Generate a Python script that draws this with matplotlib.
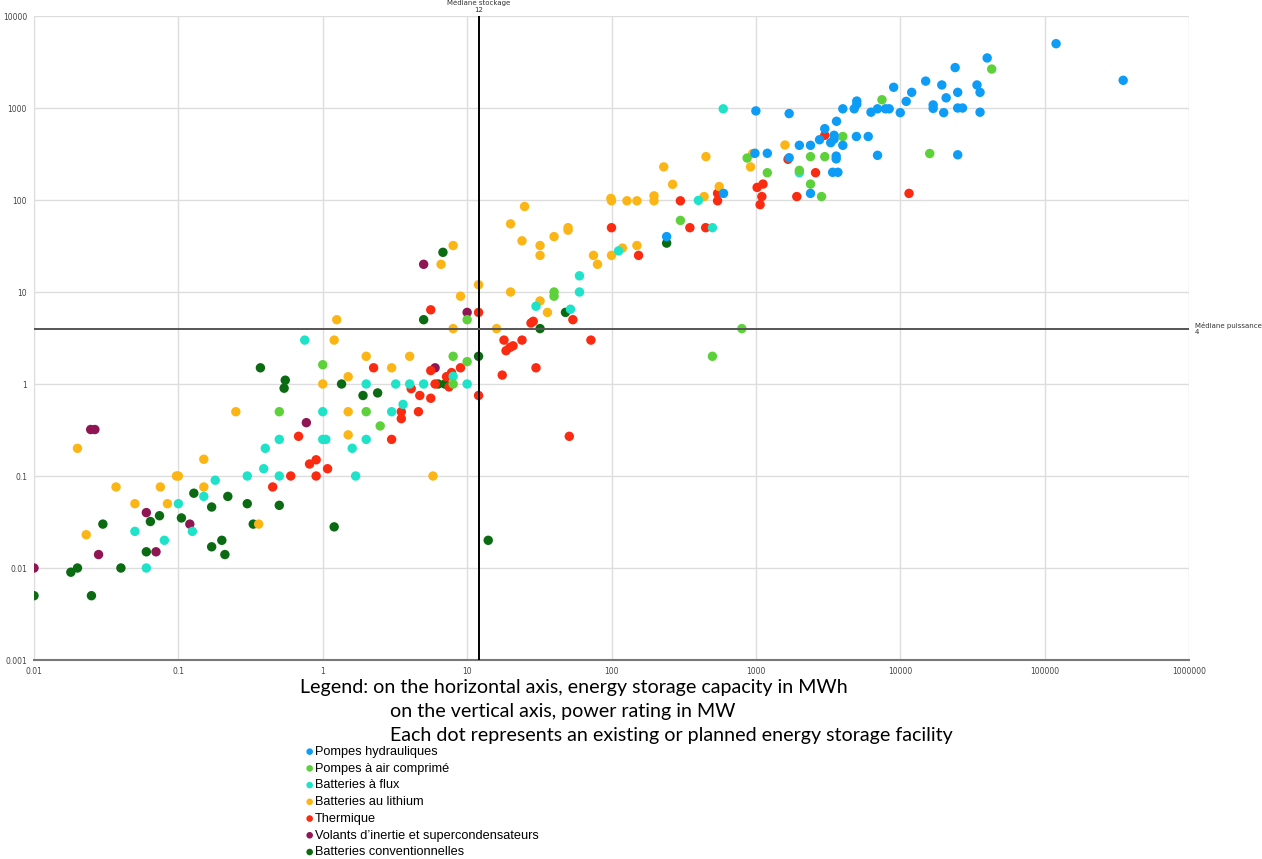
import numpy as np
import matplotlib.pyplot as plt
from matplotlib.transforms import blended_transform_factory

# storage capacity (MWh) and power rating (MW) per technology
hydro_mwh = [120000, 350000, 40000, 24000, 19400, 34000, 25000, 35700, 20800, 16900,
             16900, 20000, 25000, 27000, 35700, 25000, 15000, 9000, 12000, 11000,
             5000, 5000, 4800, 4000, 6270, 6960, 7900, 8380, 10000, 1000,
             1700, 3620, 3000, 3480, 3480, 3300, 2760, 4000, 4970, 6000,
             6960, 2000, 2390, 3600, 3600, 3400, 3700, 1700, 985, 1200,
             597, 2390, 241]
hydro_mw = [5000, 2000, 3500, 2750, 1780, 1780, 1480, 1480, 1290, 1080,
            990, 890, 1000, 1000, 900, 310, 1960, 1680, 1480, 1180,
            1190, 1100, 980, 980, 900, 980, 980, 980, 890, 930,
            870, 717, 596, 505, 460, 420, 452, 393, 490, 490,
            306, 393, 393, 300, 280, 200, 200, 288, 322, 322,
            118, 118, 40]

air_mwh = [43000, 16000, 7470, 4000, 2390, 3000, 870, 1200, 2000, 2390,
           2850, 300, 800, 500, 40, 40, 10, 8, 10, 8,
           1.0, 2.0, 2.5, 0.5]
air_mw = [2650, 320, 1230, 490, 296, 296, 286, 198, 210, 149,
          109, 60, 4, 2, 10, 9, 5, 2, 1.75, 1.0,
          1.62, 0.5, 0.35, 0.5]

flux_mwh = [594, 2000, 400, 500, 112, 60, 60, 52, 30, 8,
            5, 10, 4, 3.2, 2.0, 3.6, 3.0, 1.0, 0.75, 0.5,
            1.0, 1.05, 2.0, 1.6, 0.5, 1.69, 0.4, 0.39, 0.3, 0.18,
            0.15, 0.1, 0.05, 0.125, 0.08, 0.06]
flux_mw = [980, 198, 99, 50, 28, 15, 10, 6.5, 7, 1.21,
           1, 1, 1, 1, 1, 0.6, 0.5, 0.5, 3.0, 0.25,
           0.25, 0.25, 0.25, 0.2, 0.1, 0.1, 0.2, 0.12, 0.1, 0.09,
           0.06, 0.05, 0.025, 0.025, 0.02, 0.01]

lith_mwh = [1590, 950, 918, 451, 230, 265, 197, 197, 557, 438,
            99, 100, 128, 150, 119, 150, 100, 75, 80, 25,
            20, 24, 50, 50, 40, 32, 32, 8, 6.6, 12,
            9, 20, 32, 36, 8, 16, 1.25, 1.2, 2.0, 4.0,
            3.0, 1.5, 1.0, 1.5, 1.5, 5.8, 0.25, 0.02, 0.15, 0.097,
            0.1, 0.037, 0.075, 0.15, 0.05, 0.084, 0.023, 0.36]
lith_mw = [396, 320, 229, 296, 229, 148, 111, 98, 140, 109,
           104, 98, 98, 98, 30, 32, 25, 25, 20, 85,
           55, 36, 50, 47, 40, 32, 25, 32, 20, 12,
           9, 10, 8, 6, 4, 4, 5, 3, 2, 2,
           1.5, 1.2, 1.0, 0.5, 0.28, 0.1, 0.5, 0.2, 0.152, 0.1,
           0.1, 0.076, 0.076, 0.076, 0.05, 0.05, 0.023, 0.03]

therm_mwh = [3000, 1670, 2590, 1020, 1120, 1100, 1070, 1920, 11500, 543,
             543, 300, 349, 449, 154, 100, 54, 72, 51, 27.7,
             28.7, 24, 18, 18.6, 19.8, 20.8, 30, 17.5, 12, 12,
             5.6, 5.6, 9, 7.8, 7.2, 7.5, 6.0, 4.7, 4.6, 2.25,
             4.1, 5.6, 3.5, 3.5, 3.0, 0.68, 0.81, 0.9, 1.08, 0.9,
             0.6, 0.45]
therm_mw = [505, 277, 198, 137, 149, 109, 89, 109, 118, 118,
            98, 98, 50, 50, 25, 50, 5, 3, 0.27, 4.6,
            4.8, 3, 3, 2.3, 2.5, 2.6, 1.5, 1.25, 6, 0.75,
            6.4, 1.4, 1.5, 1.33, 1.2, 0.93, 1.0, 0.75, 0.5, 1.5,
            0.89, 0.7, 0.5, 0.42, 0.25, 0.27, 0.135, 0.15, 0.12, 0.1,
            0.1, 0.076]

fly_mwh = [0.0247, 0.0264, 0.77, 0.06, 0.12, 0.028, 0.07, 0.01, 5.0, 10, 6.0]
fly_mw = [0.32, 0.32, 0.38, 0.04, 0.03, 0.014, 0.015, 0.01, 20, 6, 1.5]

conv_mwh = [6.8, 5, 12, 0.55, 0.54, 1.35, 1.9, 2.4, 0.5, 1.2,
            14, 6.3, 7.0, 32, 48, 241, 0.37, 0.128, 0.22, 0.3,
            0.17, 0.03, 0.074, 0.064, 0.105, 0.33, 0.06, 0.17, 0.2, 0.21,
            0.04, 0.018, 0.02, 0.01, 0.025]
conv_mw = [27, 5, 2, 1.1, 0.9, 1.0, 0.75, 0.8, 0.048, 0.028,
           0.02, 1.0, 1.0, 4, 6, 34, 1.5, 0.065, 0.06, 0.05,
           0.046, 0.03, 0.037, 0.032, 0.035, 0.03, 0.015, 0.017, 0.02, 0.014,
           0.01, 0.009, 0.01, 0.005, 0.005]

labels = ["Pompes hydrauliques", "Pompes à air comprimé", "Batteries à flux",
          "Batteries au lithium", "Thermique",
          "Volants d’inertie et supercondensateurs", "Batteries conventionnelles"]
colors = ["#0d9cf6", "#5cd13a", "#1ee3c9", "#fbb616", "#fb2b12", "#8f1652", "#0b6b13"]
series = [(hydro_mwh, hydro_mw), (air_mwh, air_mw), (flux_mwh, flux_mw),
          (lith_mwh, lith_mw), (therm_mwh, therm_mw), (fly_mwh, fly_mw),
          (conv_mwh, conv_mw)]

median_storage = 12
median_power = 4

x_ticks = [0.01, 0.1, 1, 10, 100, 1000, 10000, 100000, 1000000]
x_ticklabels = ["0.01", "0.1", "1", "10", "100", "1000", "10000", "100000", "1000000"]
y_ticks = [0.001, 0.01, 0.1, 1, 10, 100, 1000, 10000]
y_ticklabels = ["0.001", "0.01", "0.1", "1", "10", "100", "1000", "10000"]

fig = plt.figure(figsize=(12.62, 8.59), dpi=100)
ax = fig.add_axes([34 / 1262, 1 - 660 / 859, 1155 / 1262, 644 / 859])

handles = []
for i, ((xs, ys), lab, col) in enumerate(zip(series, labels, colors)):
    h = ax.scatter(xs, ys, s=46, color=col, edgecolors='none', label=lab, zorder=10 - i)
    handles.append(h)

ax.set_xscale('log')
ax.set_yscale('log')
ax.set_xlim(0.01, 1000000)
ax.set_ylim(0.001, 10000)
ax.set_xticks(x_ticks)
ax.set_xticklabels(x_ticklabels)
ax.set_yticks(y_ticks)
ax.set_yticklabels(y_ticklabels)
ax.minorticks_off()
ax.tick_params(length=0, labelsize=5.5, labelcolor='#444444', pad=5)
ax.grid(True, color='#dddddd', linewidth=1)
ax.set_axisbelow(True)
for s in ['top', 'right']:
    ax.spines[s].set_visible(False)
ax.spines['left'].set_color('#dddddd')
ax.spines['bottom'].set_color('#777777')
ax.spines['bottom'].set_linewidth(1.5)

ax.axvline(median_storage, color='black', linewidth=1.4, zorder=20)
ax.axhline(median_power, color='#555555', linewidth=1.4, zorder=20)
trans_x = blended_transform_factory(ax.transData, ax.transAxes)
ax.text(median_storage, 1.005, "Médiane stockage\n" + str(median_storage), transform=trans_x,
        ha='center', va='bottom', fontsize=5, color='#333333', linespacing=1.1)
trans_y = blended_transform_factory(ax.transAxes, ax.transData)
ax.text(1.005, median_power, "Médiane puissance\n" + str(median_power), transform=trans_y,
        ha='left', va='center', fontsize=5, color='#333333', linespacing=1.1)

fig.text(300 / 1262, 1 - 687 / 859, "Legend: on the horizontal axis, energy storage capacity in MWh",
         fontsize=14.1, family='Lato', va='center')
fig.text(390 / 1262, 1 - 711 / 859, "on the vertical axis, power rating in MW",
         fontsize=14.1, family='Lato', va='center')
fig.text(390 / 1262, 1 - 735 / 859, "Each dot represents an existing or planned energy storage facility",
         fontsize=14.1, family='Lato', va='center')

fig.legend(handles=handles, loc='upper left', bbox_to_anchor=(302 / 1262, 1 - 746 / 859),
           frameon=False, prop={'family': 'Liberation Sans', 'size': 9.2},
           markerscale=0.7, handletextpad=-0.2, labelspacing=0.37, borderaxespad=0,
           borderpad=0, handlelength=1.2)

fig.savefig('out.png', dpi=100)
